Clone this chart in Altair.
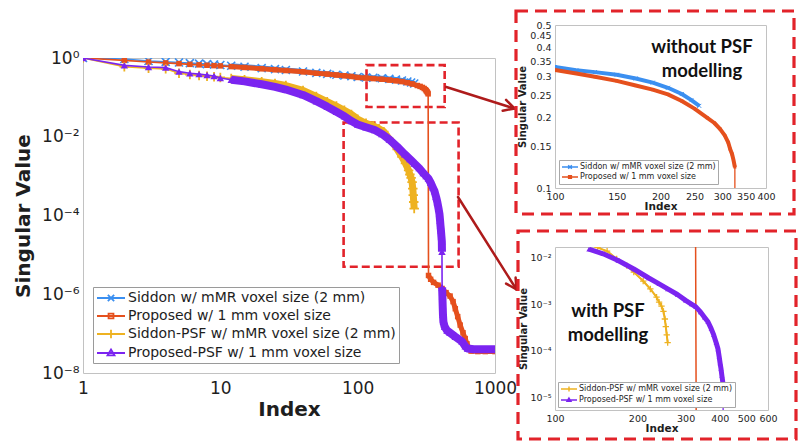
import math
import altair as alt
import pandas as pd

# ------------------------------------------------------------------ data
series_names = [
    "Siddon w/ mMR voxel size (2 mm)",
    "Proposed w/ 1 mm voxel size",
    "Siddon-PSF w/ mMR voxel size (2 mm)",
    "Proposed-PSF w/ 1 mm voxel size",
]
series_colors = ["#3b8ff0", "#e5501d", "#eeb221", "#7b24f0"]

siddon_idx = [1, 2, 3, 4, 5, 6, 7, 8, 9, 10, 12, 15, 20, 25, 30, 40, 50, 60, 70, 80, 90, 100,
              115, 130, 150, 170, 190, 210, 230, 245, 258]
siddon_val = [1.0, 0.94, 0.84, 0.80, 0.77, 0.74, 0.72, 0.70, 0.685, 0.665, 0.635, 0.60, 0.555, 0.52,
              0.495, 0.455, 0.42, 0.395, 0.375, 0.36, 0.345, 0.33,
              0.32, 0.314, 0.306, 0.295, 0.283, 0.269, 0.253, 0.238, 0.225]

proposed_idx = [1, 2, 3, 4, 5, 6, 7, 8, 9, 10, 12, 15, 20, 25, 30, 40, 50, 60, 70, 80, 90, 100,
                115, 130, 150, 170, 190, 210, 230, 250, 272, 285, 296, 305, 312, 316, 320, 323, 326,
                328, 340, 357, 385, 412, 440, 471, 495, 514, 535, 558, 585, 607, 625, 643, 670,
                750, 850, 1000]
proposed_val = [1.0, 0.87, 0.79, 0.75, 0.72, 0.69, 0.67, 0.655, 0.64, 0.63, 0.605, 0.575, 0.535,
                0.505, 0.48, 0.445, 0.41, 0.39, 0.37, 0.355, 0.34, 0.321,
                0.31, 0.30, 0.288, 0.275, 0.264, 0.252, 0.236, 0.219, 0.20, 0.19, 0.179, 0.168,
                0.157, 0.147, 0.14, 0.132, 0.123,
                3.0e-6, 2.4e-6, 2.0e-6, 1.7e-6, 1.4e-6, 1.1e-6, 9.0e-7, 6.5e-7, 4.3e-7, 2.7e-7,
                1.65e-7, 1.05e-7, 7.5e-8, 5.5e-8, 4.4e-8, 3.6e-8, 3.5e-8, 3.5e-8, 3.5e-8]

siddon_psf_idx = [1, 2, 3, 4, 5, 6, 7, 8, 9, 10, 12, 15, 20, 25, 30, 40, 50, 60, 70, 80, 90, 100,
                  115, 130, 143, 155, 168, 183, 194, 210, 223, 235, 240, 245, 249, 252, 254, 256, 258]
siddon_psf_val = [1.0, 0.6, 0.55, 0.53, 0.41, 0.38, 0.36, 0.345, 0.335, 0.32, 0.30, 0.28, 0.25,
                  0.225, 0.2, 0.15, 0.105, 0.078, 0.06, 0.047, 0.037, 0.028,
                  0.022, 0.019, 0.016, 0.0135, 0.0092, 0.0066, 0.0048, 0.0031, 0.0021, 0.0014,
                  0.0011, 0.0009, 0.0007, 0.00048, 0.00033, 0.00022, 0.00015]

proposed_psf_idx = [1, 2, 3, 4, 5, 6, 7, 8, 9, 10, 12, 15, 20, 25, 30, 40, 50, 60, 70, 80, 90, 100,
                    115, 133, 150, 170, 194, 220, 240, 258, 280, 300, 315, 327, 340, 352, 362, 372,
                    380, 388, 394, 398, 401, 404, 407, 410, 411,
                    412, 414, 416, 418, 421, 430, 447, 470, 514, 575, 607, 630, 700, 800, 900, 1000]
proposed_psf_val = [1.0, 0.65, 0.59, 0.57, 0.45, 0.41, 0.39, 0.37, 0.35, 0.31, 0.28, 0.255, 0.215,
                    0.185, 0.158, 0.115, 0.08, 0.058, 0.043, 0.033, 0.025, 0.0205,
                    0.0175, 0.0148, 0.0118, 0.0085, 0.0056, 0.0036, 0.0027, 0.0021, 0.0016, 0.0012,
                    0.001, 0.00087, 0.00068, 0.00052, 0.00042, 0.0003, 0.00022, 0.00015, 0.00011,
                    0.000075, 0.000055, 0.000042, 0.00003, 0.000022, 0.000012,
                    1.5e-6, 9e-7, 5e-7, 3e-7, 2e-7, 1.5e-7, 1.2e-7, 1.05e-7, 8.3e-8, 6.3e-8,
                    4.8e-8, 4.2e-8, 4e-8, 4e-8, 4e-8, 4e-8]

# zoom regions marked on the main plot (index range, value range)
zoom_x0 = [116, 79]
zoom_x1 = [430, 543]
zoom_y0 = [0.057, 5e-6]
zoom_y1 = [0.66, 0.023]
# first index shown in the "with PSF" inset
inset2_first_index = 133

main_x_ticks = [1, 10, 100, 1000]
main_y_ticks = [1, 1e-2, 1e-4, 1e-6, 1e-8]
main_y_labels = ["10⁰", "10⁻²", "10⁻⁴", "10⁻⁶", "10⁻⁸"]
in1_x_ticks = [100, 150, 200, 250, 300, 350, 400]
in1_y_ticks = [0.1, 0.15, 0.2, 0.25, 0.3, 0.35, 0.4, 0.45, 0.5]
in2_x_ticks = [100, 200, 300, 400, 500, 600]
in2_y_ticks = [1e-2, 1e-3, 1e-4, 1e-5]
in2_y_labels = ["10⁻²", "10⁻³", "10⁻⁴", "10⁻⁵"]
note_texts = ["without PSF\nmodelling", "with PSF\nmodelling"]

# ------------------------------------------------------------------ style
FONT = "DejaVu Sans"
TXT = "#1e1e1e"
FRAME = "#c2c2c2"
BOX_RED = "#e2232a"
ARROW_RED = "#ae1b1b"

X_PATH = "M-1,-1L1,1M-1,1L1,-1"
PLUS_PATH = "M-1,0H1M0,-1V1"
marker_shapes = [X_PATH, "square", PLUS_PATH, "triangle-up"]
marker_filled = [False, True, False, True]
legend_paths = [
    "M-1,0H3M0.55,-0.45L1.45,0.45M0.55,0.45L1.45,-0.45",
    "M-1,0H3M0.65,-0.35H1.35V0.35H0.65Z",
    "M-1,0H3M1,-0.6V0.6",
    "M-1,0H3M1,-0.5L1.5,0.35H0.5Z",
]


def make_frame(idx, val, name):
    df = pd.DataFrame({"i": idx, "v": val})
    ratio = df["v"] / df["v"].shift(1)
    df["seg"] = (ratio < 0.2).cumsum()
    df["series"] = name
    return df


dfs = [
    make_frame(siddon_idx, siddon_val, series_names[0]),
    make_frame(proposed_idx, proposed_val, series_names[1]),
    make_frame(siddon_psf_idx, siddon_psf_val, series_names[2]),
    make_frame(proposed_psf_idx, proposed_psf_val, series_names[3]),
]

one_row = pd.DataFrame({"k": [0]})


def ternary(ticks, labels):
    expr = "''"
    for t, lab in reversed(list(zip(ticks, labels))):
        expr = f"abs(log(datum.value) - log({t})) < 0.1 ? '{lab}' : ({expr})"
    return expr


def series_layers(k, xs, ys, xax, yax, msize, mstroke, thin_w, band_w, band_from, points=True, first=1):
    df = dfs[k]
    col = series_colors[k]
    enc = dict(x=alt.X("i:Q", scale=xs, axis=xax), y=alt.Y("v:Q", scale=ys, axis=yax))
    base = alt.Chart(df).transform_filter(alt.datum.i >= first)
    layers = [base.mark_line(color=col, strokeWidth=thin_w, clip=True).encode(**enc)]
    if band_w:
        layers.append(
            base.transform_filter(alt.datum.i >= band_from)
            .mark_line(color=col, strokeWidth=band_w, clip=True, strokeJoin="round")
            .encode(detail="seg:N", **enc)
        )
    if points:
        layers.append(
            base.mark_point(shape=marker_shapes[k], filled=marker_filled[k], color=col,
                            size=msize, strokeWidth=mstroke, opacity=1, clip=True).encode(**enc)
        )
    return layers


def rule(x1, y1, x2, y2, color, width):
    return alt.Chart(one_row).mark_rule(color=color, strokeWidth=width, strokeCap="round").encode(
        x=alt.value(x1), y=alt.value(y1), x2=alt.value(x2), y2=alt.value(y2))


def arrow(x1, y1, x2, y2, color=ARROW_RED, width=2.5, head=12, spread=28):
    ang = math.atan2(y1 - y2, x1 - x2)
    parts = [rule(x1, y1, x2, y2, color, width)]
    for s in (-spread, spread):
        a = ang + math.radians(s)
        parts.append(rule(x2, y2, x2 + head * math.cos(a), y2 + head * math.sin(a), color, width))
    return parts


def legend_layer(field, names, colors, paths, legend, size, sw):
    ldf = pd.DataFrame({field: names})
    return alt.Chart(ldf).mark_point(filled=False, size=size, strokeWidth=sw, clip=True, opacity=1).encode(
        x=alt.value(-80), y=alt.value(-80),
        color=alt.Color(f"{field}:N", scale=alt.Scale(domain=names, range=colors), legend=legend),
        shape=alt.Shape(f"{field}:N", scale=alt.Scale(domain=names, range=paths), legend=legend),
    )


# ------------------------------------------------------------------ main plot
MW, MH = 412, 315
xs_main = alt.Scale(type="log", domain=[1, 1000], nice=False)
ys_main = alt.Scale(type="log", domain=[1e-8, 1], nice=False)
x_ax_main = alt.Axis(title="Index", values=main_x_ticks, format="d", labelFontSize=17, titleFontSize=20,
                     titleFontWeight="bold", ticks=False, domain=False, grid=False, labelPadding=7,
                     titlePadding=3, labelFlush=False, labelOverlap=False)
y_ax_main = alt.Axis(title="Singular Value", values=main_y_ticks, labelExpr=ternary(main_y_ticks, main_y_labels),
                     labelFontSize=17, titleFontSize=20, titleFontWeight="bold", ticks=False, domain=False,
                     grid=False, labelPadding=4, titlePadding=8, labelFlush=False, labelOverlap=False)

boxes = pd.DataFrame({"x0": zoom_x0, "x1": zoom_x1, "y0": zoom_y0, "y1": zoom_y1})
box_layer = alt.Chart(boxes).mark_rect(filled=False, color=BOX_RED, strokeWidth=2.6, strokeDash=[8, 4]).encode(
    x=alt.X("x0:Q", scale=xs_main, axis=x_ax_main), x2="x1:Q",
    y=alt.Y("y0:Q", scale=ys_main, axis=y_ax_main), y2="y1:Q")

main_layers = []
main_sizes = [64, 30, 90, 55]
main_strokes = [1.6, 1, 1.8, 1]
main_bands = [5, 5, 7, 8]
for k in range(4):
    main_layers += series_layers(k, xs_main, ys_main, x_ax_main, y_ax_main, main_sizes[k], main_strokes[k],
                                 1.6, main_bands[k], 12)

main_legend = alt.Legend(title=None, orient="bottom-left", offset=10, labelFont=FONT, labelFontSize=14,
                         labelColor=TXT, labelLimit=500, fillColor="white", strokeColor="#9a9a9a",
                         padding=3, rowPadding=3, labelOffset=16, symbolStrokeWidth=1.8, symbolSize=196)

arrows = arrow(363.3, 29, 431.5, 50.5) + arrow(375, 139, 433.5, 231.5)

main = alt.layer(
    box_layer, *main_layers,
    legend_layer("series", series_names, series_colors, legend_paths, main_legend, 196, 1.8),
    *arrows,
).properties(width=MW, height=MH)

spacer = alt.Chart(one_row).mark_point(opacity=0).encode(x=alt.value(0), y=alt.value(0)).properties(
    width=MW, height=33, view=alt.ViewBackground(stroke=None, strokeOpacity=0))

left = alt.vconcat(spacer, main, spacing=0, bounds="flush").resolve_scale(
    color="independent", shape="independent").resolve_legend(color="independent", shape="independent")


# ------------------------------------------------------------------ insets
def inset_axes(xt, yt, ylab_expr=None, yfmt="~g"):
    xa = alt.Axis(title="Index", values=xt, format="d", labelFontSize=9.5, titleFontSize=10.5,
                  titleFontWeight="bold", ticks=False, domain=False, grid=False, labelPadding=3,
                  titlePadding=1, labelFlush=False, labelOverlap=False)
    if ylab_expr:
        ya = alt.Axis(title="Singular Value", values=yt, labelExpr=ylab_expr, labelFontSize=9.5,
                      titleFontSize=10, titleFontWeight="bold", ticks=False, domain=False, grid=False,
                      labelPadding=4, titlePadding=2, labelFlush=False, labelOverlap=False)
    else:
        ya = alt.Axis(title="Singular Value", values=yt, format=yfmt, labelFontSize=9.5,
                      titleFontSize=10, titleFontWeight="bold", ticks=False, domain=False, grid=False,
                      labelPadding=4, titlePadding=2, labelFlush=False, labelOverlap=False)
    return xa, ya


def inset_legend(offset):
    return alt.Legend(title=None, orient="bottom-left", offset=offset, labelFont=FONT, labelFontSize=8,
                      labelColor=TXT, labelLimit=400, fillColor="white", strokeColor="#a8a8a8",
                      padding=2, rowPadding=0, labelOffset=9, symbolStrokeWidth=1.4, symbolSize=64)


def dashed_frame(x1, y1, x2, y2):
    return alt.Chart(one_row).mark_rect(filled=False, color=BOX_RED, strokeWidth=3.2, strokeDash=[12, 7]).encode(
        x=alt.value(x1), x2=alt.value(x2), y=alt.value(y1), y2=alt.value(y2))


def note(text, x, y):
    return alt.Chart(one_row).mark_text(text=text, lineBreak="\n", font="Lato", fontSize=18.5, fontWeight="bold",
                                        color="#111111", align="center", baseline="middle",
                                        lineHeight=23.5).encode(x=alt.value(x), y=alt.value(y))


I1W, I1H = 211, 163
xs1 = alt.Scale(type="log", domain=[100, 400], nice=False)
ys1 = alt.Scale(type="log", domain=[0.1, 0.5], nice=False)
xa1, ya1 = inset_axes(in1_x_ticks, in1_y_ticks)
in1_layers = []
for k, ms, band in ((0, 16, 4), (1, 9, 4)):
    in1_layers += series_layers(k, xs1, ys1, xa1, ya1, ms, 1.0, 1.3, band, 1)
inset1 = alt.layer(
    *in1_layers,
    legend_layer("s1", series_names[:2], series_colors[:2], legend_paths[:2], inset_legend(4), 64, 1.4),
    note(note_texts[0], 147, 22),
    dashed_frame(-39, -14, 239, 189),
).properties(width=I1W, height=I1H)

I2W, I2H = 213, 163
xs2 = alt.Scale(type="log", domain=[100, 600], nice=False)
ys2 = alt.Scale(type="log", domain=[5.5e-6, 0.0165], nice=False)
xa2, ya2 = inset_axes(in2_x_ticks, in2_y_ticks, ternary(in2_y_ticks, in2_y_labels))
in2_layers = series_layers(1, xs2, ys2, xa2, ya2, 9, 1.0, 1.5, 0, 1, points=False)
for k, ms, band in ((2, 40, 2), (3, 26, 5)):
    in2_layers += series_layers(k, xs2, ys2, xa2, ya2, ms, 1.3, 1.3, band, 1, first=inset2_first_index)
inset2 = alt.layer(
    *in2_layers,
    legend_layer("s2", series_names[2:], series_colors[2:], legend_paths[2:], inset_legend(3), 64, 1.4),
    note(note_texts[1], 53, 64),
    dashed_frame(-37, -16, 241, 192),
).properties(width=I2W, height=I2H)

right = alt.vconcat(inset1, inset2, spacing=59, bounds="flush").resolve_scale(
    x="independent", y="independent", color="independent", shape="independent").resolve_legend(
    color="independent", shape="independent")

chart = (
    alt.hconcat(left, right, spacing=-6)
    .resolve_scale(x="independent", y="independent", color="independent", shape="independent")
    .resolve_legend(color="independent", shape="independent")
    .properties(padding={"left": 5, "top": 0, "right": 0, "bottom": 0})
    .configure(font=FONT)
    .configure_view(stroke=FRAME, strokeWidth=1)
    .configure_axis(labelFont=FONT, titleFont=FONT, labelColor=TXT, titleColor=TXT)
)

chart.save("out.html", embed_options={"renderer": "svg", "actions": False})
